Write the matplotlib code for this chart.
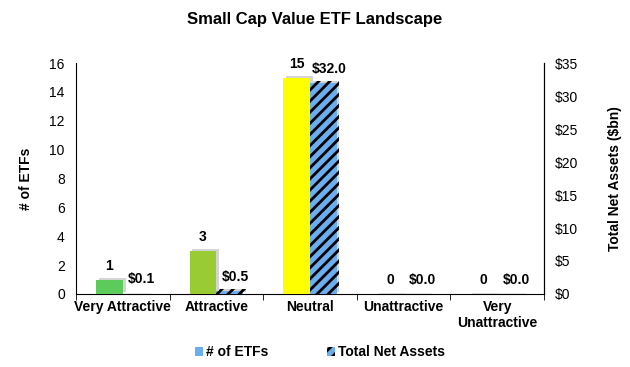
import matplotlib
matplotlib.use("Agg")
import matplotlib.pyplot as plt
import matplotlib.patheffects as pe
from matplotlib.patches import Patch
import numpy as np

plt.rcParams['font.family'] = ['Liberation Sans', 'DejaVu Sans']
plt.rcParams['hatch.linewidth'] = 2.0

categories = ["Very Attractive", "Attractive", "Neutral", "Unattractive", "Very\nUnattractive"]
num_etfs = [1, 3, 15, 0, 0]
total_assets = [0.1, 0.5, 32.0, 0.0, 0.0]
etf_labels = ["1", "3", "15", "0", "0"]
asset_labels = ["$0.1", "$0.5", "$32.0", "$0.0", "$0.0"]
bar_colors = ["#5CCB5C", "#99CC33", "#FFFF00", "#6AAEF0", "#6AAEF0"]
left_ticks = [0, 2, 4, 6, 8, 10, 12, 14, 16]
right_ticks = [0, 5, 10, 15, 20, 25, 30, 35]

fig = plt.figure(figsize=(6.3, 3.67), dpi=100)
ax = fig.add_axes([0.1206, 0.199, 0.7429, 0.629])
ax2 = ax.twinx()

x = np.arange(len(categories))
w = 0.285
shadow = [pe.SimplePatchShadow(offset=(2.0, 1.2), shadow_rgbFace='#a0a0a0', alpha=0.45), pe.Normal()]

for i in range(len(categories)):
    if num_etfs[i] > 0:
        b = ax.bar(x[i] - w / 2, num_etfs[i], w, color=bar_colors[i], linewidth=0, zorder=3)
        b[0].set_path_effects(shadow)
    else:
        ax.bar(x[i] - w / 2 + 0.02, 0.06, w, color='#e0e0e0', linewidth=0, zorder=2)
    ax.annotate(etf_labels[i], (x[i] - w / 2, num_etfs[i]), xytext=(0, 5),
                textcoords='offset points', ha='center', va='bottom',
                fontsize=10, fontweight='bold')

for i in range(len(categories)):
    if total_assets[i] > 0.3:
        b = ax2.bar(x[i] + w / 2, total_assets[i], w, color='#6AAEF0', edgecolor='black',
                    hatch='///', linewidth=0, zorder=3)
        b[0].set_path_effects(shadow)
    else:
        ax2.bar(x[i] + w / 2 + 0.02, 0.13, w, color='#e0e0e0', linewidth=0, zorder=2)
    ax2.annotate(asset_labels[i], (x[i] + w / 2, total_assets[i]), xytext=(4, 5),
                 textcoords='offset points', ha='center', va='bottom',
                 fontsize=10, fontweight='bold')

ax.set_xlim(-0.5, 4.5)
ax.set_ylim(0, 16)
ax2.set_ylim(0, 35)
ax.set_yticks(left_ticks)
ax.set_yticklabels([str(t) for t in left_ticks], fontsize=10)
ax2.set_yticks(right_ticks)
ax2.set_yticklabels(["$" + str(t) for t in right_ticks], fontsize=10)
ax.tick_params(axis='y', length=0, pad=8)
ax2.tick_params(axis='y', length=0, pad=8)

ax.set_xticks(x)
ax.set_xticklabels(categories, fontsize=10, fontweight='bold')
ax.tick_params(axis='x', which='major', length=0, pad=4)
ax.set_xticks(np.arange(-0.5, 5.0, 1.0), minor=True)
ax.tick_params(axis='x', which='minor', length=4, direction='out')

for a in (ax, ax2):
    a.spines['top'].set_visible(False)
ax2.spines['left'].set_visible(False)
ax2.spines['bottom'].set_visible(False)

ax.set_ylabel("# of ETFs", fontsize=10, fontweight='bold', labelpad=12)
ax2.set_ylabel("Total Net Assets ($bn)", fontsize=10, fontweight='bold', labelpad=21)

fig.text(0.5, 0.948, "Small Cap Value ETF Landscape", ha='center', va='center',
         fontsize=12, fontweight='bold')

handles = [Patch(facecolor='#6AAEF0', linewidth=0),
           Patch(facecolor='#6AAEF0', edgecolor='black', hatch='///', linewidth=0)]
fig.legend(handles, ["# of ETFs", "Total Net Assets"], loc='center', bbox_to_anchor=(0.508, 0.04),
           ncol=2, frameon=False, prop={'weight': 'bold', 'size': 10},
           handlelength=0.6, handleheight=0.6, handletextpad=0.2, columnspacing=4.2)

fig.savefig("out.png", dpi=100)
